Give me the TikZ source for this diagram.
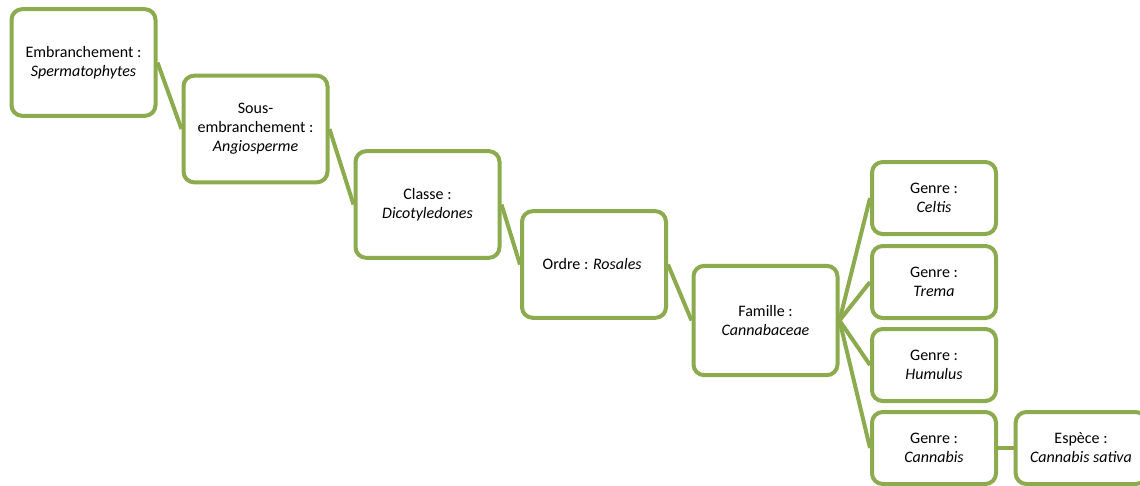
\documentclass[tikz,border=0pt]{standalone}
\usepackage{fontspec}
\setmainfont{Carlito}
\usetikzlibrary{positioning}

\definecolor{leafgreen}{RGB}{140,170,78}

\begin{document}
\begin{tikzpicture}[x=0.75pt, y=-0.75pt]
		\tikzstyle{rank}=[rectangle, draw=leafgreen, line width=3pt, rounded corners=8pt,
			fill=white, align=center, font=\fontsize{12}{14.3}\selectfont,
			minimum width=108pt, minimum height=80pt, inner sep=2pt]
		\tikzstyle{genus}=[rank, minimum width=93pt, minimum height=54pt]
		\tikzstyle{link}=[draw=leafgreen, line width=3pt]

		\clip (0,0) rectangle (1140,486);

		\node[rank] (embr) at (83.5,62.5) {
			Embranchement :\\ \textit{Spermatophytes}
		};

		\node[rank] (sousembr) at (255.5,129) {
			Sous-\\embranchement :\\ \textit{Angiosperme}
		};

		\node[rank] (classe) at (427.5,204.5) {
			Classe :\\ \textit{Dicotyledones}
		};

		\node[rank] (ordre) at (594,264.5) {
			Ordre : \textit{Rosales}
		};

		\node[rank, minimum height=82pt] (famille) at (765.5,320.5) {
			Famille :\\ \textit{Cannabaceae}
		};

		\node[genus] (celtis) at (934,198) {
			Genre :\\ \textit{Celtis}
		};

		\node[genus] (trema) at (934,282) {
			Genre :\\ \textit{Trema}
		};

		\node[genus] (humulus) at (934,365) {
			Genre :\\ \textit{Humulus}
		};

		\node[genus] (cannabis) at (934,448) {
			Genre :\\ \textit{Cannabis}
		};

		\node[genus, minimum width=98pt] (sativa) at (1081,448) {
			Espèce :\\ \textit{Cannabis sativa}
		};

		\draw[link] (embr.east) -- (sousembr.west);
		\draw[link] (sousembr.east) -- (classe.west);
		\draw[link] (classe.east) -- (ordre.west);
		\draw[link] (ordre.east) -- (famille.west);
		\draw[link] (famille.east) -- (celtis.west);
		\draw[link] (famille.east) -- (trema.west);
		\draw[link] (famille.east) -- (humulus.west);
		\draw[link] (famille.east) -- (cannabis.west);
		\draw[link] (cannabis.east) -- (sativa.west);

	\end{tikzpicture}
\end{document}
